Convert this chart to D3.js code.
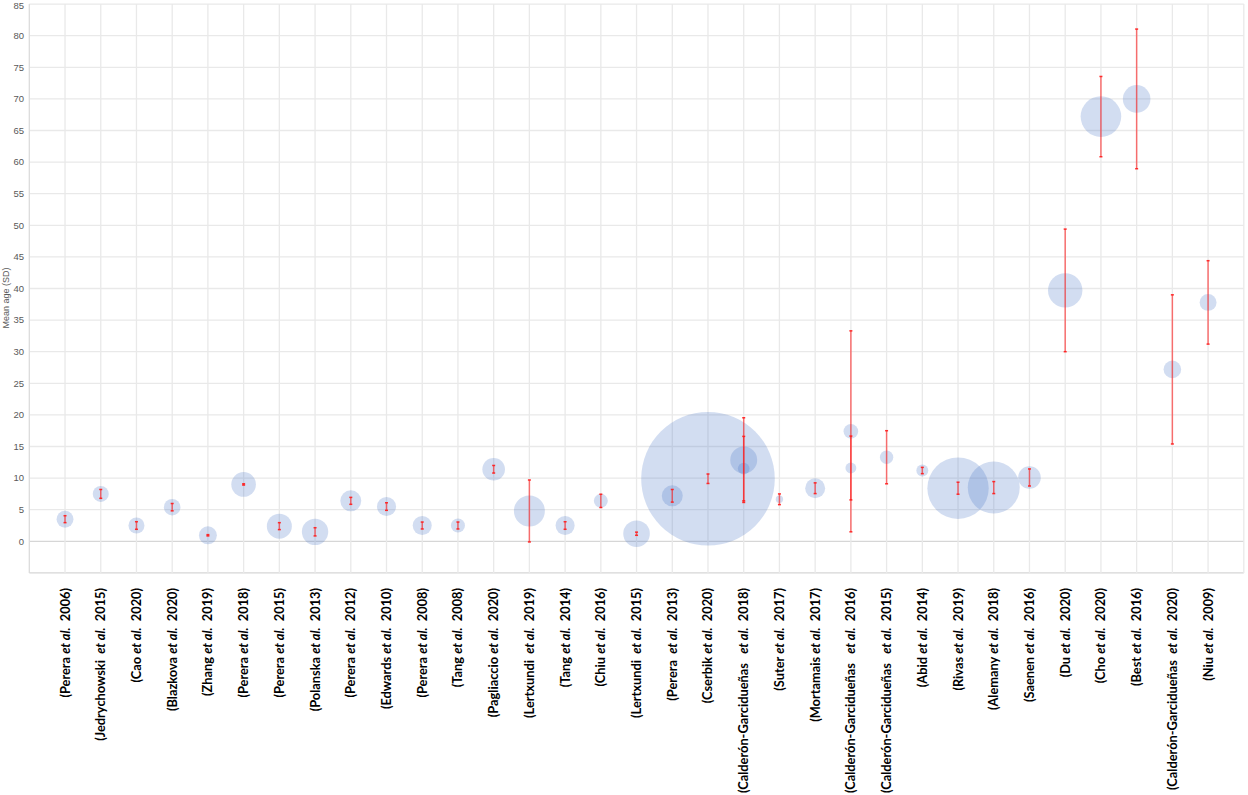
<!DOCTYPE html>
<html>
<head>
<meta charset="utf-8">
<script src="https://cdn.jsdelivr.net/npm/d3@7"></script>
<style>
  html, body { margin: 0; padding: 0; background: #fff; }
  svg { display: block; }
  .xlab { white-space: pre; }
</style>
</head>
<body>
<svg id="chart" width="1248" height="795"></svg>
<script>
// ---- Data ----
const authors = [
  "Perera", "Jedrychowski ", "Cao", "Blazkova", "Zhang", "Perera", "Perera", "Polanska",
  "Perera", "Edwards", "Perera", "Tang", "Pagliaccio", "Lertxundi ", "Tang", "Chiu",
  "Lertxundi ", "Perera ", "Cserbik", "Calderón-Garcidueñas  ", "Suter", "Mortamais",
  "Calderón-Garcidueñas  ", "Calderón-Garcidueñas  ", "Abid", "Rivas", "Alemany", "Saenen",
  "Du", "Cho", "Best", "Calderón-Garcidueñas ", "Niu"
];
const years = [
  "2006", "2015", "2020", "2020", "2019", "2018", "2015", "2013",
  "2012", "2010", "2008", "2008", "2020", "2019", "2014", "2016",
  "2015", "2013", "2020", "2018", "2017", "2017",
  "2016", "2015", "2014", "2019", "2018", "2016",
  "2020", "2020", "2016", "2020", "2009"
];
const categories = authors.map((a, i) => i);

// one entry per bubble (some studies have two groups)
const pointCategory = [0,1,2,3,4,5,6,7,8,9,10,11,12,13,14,15,16,17,18,19,19,20,21,22,22,23,24,25,26,27,28,29,30,31,32];
const meanAge = [3.5,7.5,2.5,5.4,0.95,9.0,2.4,1.5,6.4,5.5,2.5,2.5,11.4,4.8,2.5,6.4,1.2,7.2,9.9,12.85,11.5,6.65,8.4,17.4,11.6,13.3,11.2,8.4,8.5,10.1,39.7,67.2,70.0,27.2,37.8];
const sdAge   = [0.55,0.7,0.6,0.58,0.1,0.1,0.55,0.65,0.55,0.6,0.55,0.55,0.6,4.9,0.6,1.05,0.25,1.0,0.75,6.7,5.1,0.85,0.85,15.9,5.05,4.2,0.5,0.95,0.95,1.35,9.7,6.35,11.05,11.8,6.6];
const bubbleSize = [48,43,43,46,54,102,105,117,74,61,61,33,86,161,61,33,119,74,3000,122,23,9,67,36,20,30,24,633,454,86,199,277,128,52,48];

const yTicks = d3.range(0, 86, 5);

// ---- Layout ----
const svg = d3.select("#chart");
const plotLeft = 29.3, plotRight = 1243.8, plotTop = 4.1, plotBottom = 572.9;

const x = d3.scalePoint().domain(categories).range([plotLeft, plotRight]).padding(1);
const y = d3.scaleLinear().domain([-5, 85]).range([plotBottom, plotTop]);
const r = d3.scaleSqrt().domain([0, 3000]).range([0, 66.8]);

// grid
const grid = svg.append("g");
const hLines = [-5].concat(yTicks);
grid.selectAll("line.h").data(hLines).enter().append("line")
  .attr("x1", plotLeft).attr("x2", plotRight)
  .attr("y1", d => y(d)).attr("y2", d => y(d))
  .attr("stroke", d => (d === 0 || d === -5) ? "#d6d6d6" : "#e9e9e9")
  .attr("stroke-width", 1.3);
const vPos = [plotLeft].concat(categories.map(c => x(c))).concat([plotRight]);
grid.selectAll("line.v").data(vPos).enter().append("line")
  .attr("x1", d => d).attr("x2", d => d)
  .attr("y1", plotTop).attr("y2", plotBottom)
  .attr("stroke", (d, i) => i === 0 ? "#dcdcdc" : "#e9e9e9")
  .attr("stroke-width", 1.3);

// y tick labels
svg.append("g").selectAll("text").data(yTicks).enter().append("text")
  .attr("x", 24).attr("y", d => Math.max(y(d), 6)).attr("dy", "0.35em")
  .attr("text-anchor", "end")
  .attr("font-family", "Liberation Sans, Arial, sans-serif")
  .attr("font-size", 9.5).attr("fill", "#595959")
  .text(d => d);

// y title
svg.append("text")
  .attr("transform", "translate(9,298) rotate(-90)")
  .attr("text-anchor", "middle")
  .attr("font-family", "Liberation Sans, Arial, sans-serif")
  .attr("font-size", 9).attr("fill", "#595959")
  .text("Mean age (SD)");

// points
const pts = pointCategory.map((c, i) => ({ c, m: meanAge[i], sd: sdAge[i], n: bubbleSize[i] }));

svg.append("g").selectAll("circle").data(pts).enter().append("circle")
  .attr("cx", d => x(d.c)).attr("cy", d => y(d.m))
  .attr("r", d => r(d.n))
  .attr("fill", "#4472C4").attr("fill-opacity", 0.24);

// error bars
const eb = svg.append("g").attr("stroke", "#ff1a1a").attr("stroke-opacity", 0.6);
eb.selectAll("line.bar").data(pts).enter().append("line")
  .attr("x1", d => x(d.c)).attr("x2", d => x(d.c))
  .attr("y1", d => y(d.m - d.sd)).attr("y2", d => y(d.m + d.sd))
  .attr("stroke-width", 1.5);
eb.selectAll("line.capt").data(pts).enter().append("line")
  .attr("x1", d => x(d.c) - 1.5).attr("x2", d => x(d.c) + 1.5)
  .attr("y1", d => y(d.m + d.sd)).attr("y2", d => y(d.m + d.sd))
  .attr("stroke-width", 1.5).attr("stroke-opacity", 0.9);
eb.selectAll("line.capb").data(pts).enter().append("line")
  .attr("x1", d => x(d.c) - 1.5).attr("x2", d => x(d.c) + 1.5)
  .attr("y1", d => y(d.m - d.sd)).attr("y2", d => y(d.m - d.sd))
  .attr("stroke-width", 1.5).attr("stroke-opacity", 0.9);

// x labels
const lab = svg.append("g").selectAll("text").data(categories).enter().append("text")
  .attr("class", "xlab")
  .attr("transform", d => `translate(${x(d) + 4.5},588) rotate(-90)`)
  .attr("text-anchor", "end")
  .attr("font-family", "Lato, 'Open Sans', sans-serif")
  .attr("font-weight", 700)
  .attr("font-size", 12.8)
  .attr("fill", "#000");
lab.append("tspan").text(d => "(" + authors[d] + " ");
lab.append("tspan").attr("font-style", "italic").text("et al.");
lab.append("tspan").text(d => "  " + years[d] + ")");
</script>
</body>
</html>
